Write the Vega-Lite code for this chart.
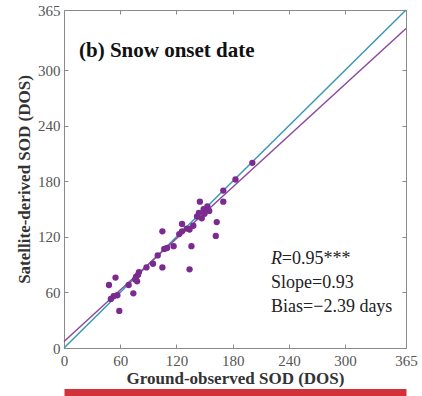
{
  "$schema": "https://vega.github.io/schema/vega-lite/v6.json",
  "width": 342,
  "height": 338,
  "autosize": "none",
  "padding": {"left": 64, "top": 10, "right": 16, "bottom": 48},
  "background": "white",
  "config": {
    "view": {"stroke": null},
    "font": "Liberation Serif",
    "axis": {
      "grid": false,
      "domainColor": "#8a8a8a",
      "tickColor": "#8a8a8a",
      "labelFont": "Liberation Serif",
      "titleFont": "Liberation Serif",
      "labelColor": "#555555",
      "titleColor": "#333333",
      "labelFontSize": 15,
      "titleFontSize": 17,
      "titleFontWeight": "bold"
    }
  },
  "datasets": {
    "pts": [
      {"obs": 48, "sat": 68}, {"obs": 50, "sat": 53}, {"obs": 53, "sat": 56}, {"obs": 55, "sat": 76},
      {"obs": 57, "sat": 57}, {"obs": 59, "sat": 40}, {"obs": 69, "sat": 68}, {"obs": 74, "sat": 59},
      {"obs": 76, "sat": 74}, {"obs": 77, "sat": 77}, {"obs": 79, "sat": 79}, {"obs": 80, "sat": 82},
      {"obs": 78, "sat": 72}, {"obs": 88, "sat": 87}, {"obs": 95, "sat": 91}, {"obs": 100, "sat": 100},
      {"obs": 105, "sat": 126}, {"obs": 105, "sat": 87}, {"obs": 107, "sat": 107}, {"obs": 110, "sat": 108},
      {"obs": 117, "sat": 110}, {"obs": 123, "sat": 123}, {"obs": 126, "sat": 126}, {"obs": 126, "sat": 134},
      {"obs": 131, "sat": 129}, {"obs": 134, "sat": 128}, {"obs": 136, "sat": 110}, {"obs": 134, "sat": 85},
      {"obs": 138, "sat": 132}, {"obs": 142, "sat": 142}, {"obs": 144, "sat": 146}, {"obs": 145, "sat": 158},
      {"obs": 147, "sat": 140}, {"obs": 149, "sat": 150}, {"obs": 150, "sat": 145}, {"obs": 152, "sat": 150},
      {"obs": 153, "sat": 153}, {"obs": 155, "sat": 148}, {"obs": 162, "sat": 121}, {"obs": 163, "sat": 136},
      {"obs": 170, "sat": 158}, {"obs": 170, "sat": 170}, {"obs": 183, "sat": 182}, {"obs": 201, "sat": 200}
    ],
    "one": [{}]
  },
  "layer": [
    {
      "data": {"name": "one"},
      "mark": {"type": "rule", "color": "#3a98b2", "strokeWidth": 1.5},
      "encoding": {
        "x": {"datum": 0, "type": "quantitative", "axis": {"orient": "top", "values": [0, 60, 120, 180, 240, 300, 365], "labels": false, "title": null, "tickSize": -4}},
        "y": {"datum": 0, "type": "quantitative", "axis": {"orient": "right", "values": [0, 60, 120, 180, 240, 300, 365], "labels": false, "title": null, "tickSize": -4}},
        "x2": {"datum": 365},
        "y2": {"datum": 365}
      }
    },
    {
      "data": {"name": "one"},
      "mark": {"type": "rule", "color": "#8a4a9e", "strokeWidth": 1.5},
      "encoding": {
        "x": {"datum": 0, "type": "quantitative", "axis": {"orient": "bottom", "labels": false, "ticks": false, "title": null, "domainColor": "#d3313a", "domainWidth": 7, "offset": 44}},
        "y": {"datum": 7, "type": "quantitative", "axis": null},
        "x2": {"datum": 365},
        "y2": {"datum": 345}
      }
    },
    {
      "data": {"name": "pts"},
      "mark": {"type": "circle", "size": 40, "color": "#7b2a8f", "opacity": 1},
      "encoding": {
        "x": {"field": "obs", "type": "quantitative",
          "scale": {"domain": [0, 365], "nice": false, "zero": false},
          "axis": {"orient": "bottom", "values": [0, 60, 120, 180, 240, 300, 365], "title": "Ground-observed SOD (DOS)",
            "tickSize": -4, "labelPadding": 9, "titlePadding": 2, "labelFlush": false}},
        "y": {"field": "sat", "type": "quantitative",
          "scale": {"domain": [0, 365], "nice": false, "zero": false},
          "axis": {"orient": "left", "values": [0, 60, 120, 180, 240, 300, 365], "title": "Satellite-derived SOD (DOS)",
            "tickSize": -4, "labelPadding": 8, "titlePadding": 4, "labelFlush": false}}
      }
    },
    {
      "data": {"name": "one"},
      "mark": {"type": "text", "text": "(b) Snow onset date", "font": "Liberation Serif", "fontWeight": "bold", "fontSize": 21, "align": "left", "baseline": "alphabetic", "color": "#111111"},
      "encoding": {
        "x": {"datum": 16, "type": "quantitative", "axis": null},
        "y": {"datum": 314, "type": "quantitative", "axis": null}
      }
    },
    {
      "data": {"name": "one"},
      "mark": {"type": "text", "text": "R", "font": "Liberation Serif", "fontStyle": "italic", "fontSize": 18, "align": "left", "baseline": "alphabetic", "color": "#222222"},
      "encoding": {
        "x": {"datum": 221, "type": "quantitative", "axis": null},
        "y": {"datum": 91, "type": "quantitative", "axis": null}
      }
    },
    {
      "data": {"name": "one"},
      "mark": {"type": "text", "text": "=0.95***", "font": "Liberation Serif", "fontSize": 18, "align": "left", "baseline": "alphabetic", "color": "#222222"},
      "encoding": {
        "x": {"datum": 232.5, "type": "quantitative", "axis": null},
        "y": {"datum": 91, "type": "quantitative", "axis": null}
      }
    },
    {
      "data": {"name": "one"},
      "mark": {"type": "text", "text": "Slope=0.93", "font": "Liberation Serif", "fontSize": 18, "align": "left", "baseline": "alphabetic", "color": "#222222"},
      "encoding": {
        "x": {"datum": 221, "type": "quantitative", "axis": null},
        "y": {"datum": 65, "type": "quantitative", "axis": null}
      }
    },
    {
      "data": {"name": "one"},
      "mark": {"type": "text", "text": "Bias=−2.39 days", "font": "Liberation Serif", "fontSize": 18, "align": "left", "baseline": "alphabetic", "color": "#222222"},
      "encoding": {
        "x": {"datum": 221, "type": "quantitative", "axis": null},
        "y": {"datum": 39, "type": "quantitative", "axis": null}
      }
    }
  ],
  "resolve": {"axis": {"x": "independent", "y": "independent"}}
}
